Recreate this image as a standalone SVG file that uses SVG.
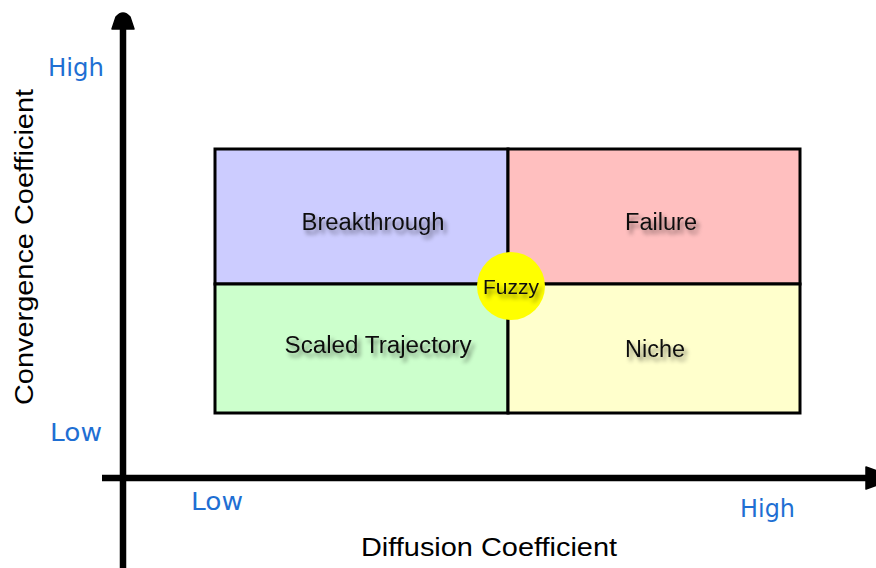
<svg xmlns="http://www.w3.org/2000/svg" width="876" height="568" viewBox="0 0 876 568">
<defs>
<style>
.q{font-family:"Liberation Sans",Arial,sans-serif;font-size:23px;fill:#111;text-anchor:middle;filter:url(#sh)}
.ax{font-family:"Liberation Sans",Arial,sans-serif;font-size:25.5px;fill:#000}
.lv{font-family:"DejaVu Sans","Liberation Sans",sans-serif;font-size:25px;fill:#1F6FD3}
.cell{stroke:#000;stroke-width:3}
.axis{stroke:#000;stroke-width:6.5;fill:none}
</style>
<filter id="sh" x="-20%" y="-40%" width="150%" height="200%">
<feDropShadow dx="3" dy="4" stdDeviation="2" flood-color="#000" flood-opacity="0.45"/>
</filter>
</defs>
<g id="axes">
<line class="axis" x1="123" y1="26" x2="123" y2="568"/>
<line class="axis" x1="102" y1="478" x2="866" y2="478"/>
<path d="M112,29 L116,17 Q123,9 130,17 L134,29 Z" fill="#000" stroke="#000" stroke-width="1.5" stroke-linejoin="round"/>
<path d="M866,467 L880,472 L880,484 L866,489 Z" fill="#000" stroke="#000" stroke-width="1.5" stroke-linejoin="round"/>
</g>
<g id="breakthrough">
<rect class="cell" x="215" y="149" width="293" height="135" fill="#CCCCFF"/>
<text class="q" x="373" y="230" textLength="143" lengthAdjust="spacingAndGlyphs">Breakthrough</text>
</g>
<g id="failure">
<rect class="cell" x="508" y="149" width="292" height="135" fill="#FFBFBF"/>
<text class="q" x="661" y="230" textLength="72" lengthAdjust="spacingAndGlyphs">Failure</text>
</g>
<g id="scaled-trajectory">
<rect class="cell" x="215" y="284" width="293" height="129" fill="#CCFFCC"/>
<text class="q" x="378" y="353" textLength="187" lengthAdjust="spacingAndGlyphs">Scaled Trajectory</text>
</g>
<g id="niche">
<rect class="cell" x="508" y="284" width="292" height="129" fill="#FFFFCC"/>
<text class="q" x="655" y="357" textLength="60" lengthAdjust="spacingAndGlyphs">Niche</text>
</g>
<g id="fuzzy">
<circle cx="511" cy="286" r="34" fill="#FFFF00"/>
<text class="q" x="511" y="294" style="font-size:20px" textLength="56" lengthAdjust="spacingAndGlyphs">Fuzzy</text>
</g>
<g id="labels">
<text class="lv" x="48" y="76" textLength="56" lengthAdjust="spacingAndGlyphs">High</text>
<text class="lv" x="50" y="441" textLength="52" lengthAdjust="spacingAndGlyphs">Low</text>
<text class="lv" x="191" y="510" textLength="52" lengthAdjust="spacingAndGlyphs">Low</text>
<text class="lv" x="740" y="517" textLength="55" lengthAdjust="spacingAndGlyphs">High</text>
<text class="ax" x="361" y="556" textLength="256" lengthAdjust="spacingAndGlyphs">Diffusion Coefficient</text>
<text class="ax" transform="translate(33,405) rotate(-90)" x="0" y="0" textLength="316" lengthAdjust="spacingAndGlyphs">Convergence Coefficient</text>
</g>
</svg>
